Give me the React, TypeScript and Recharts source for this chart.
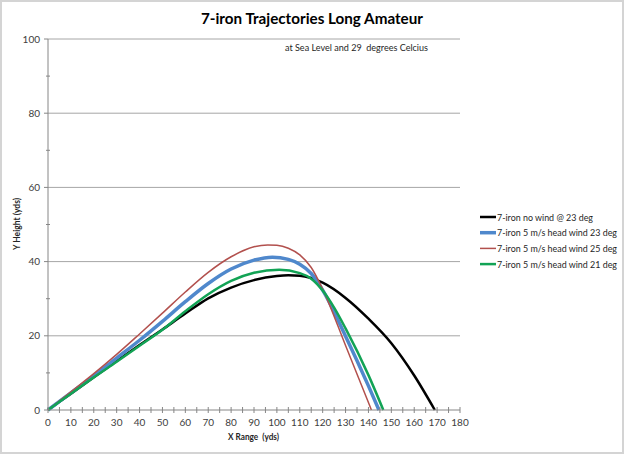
import { Line, LineChart, ReferenceLine, XAxis, YAxis } from 'recharts';

// yards downrange vs height in yards
const rangeNoWind = [0, 10, 20, 30, 40, 50, 60, 70, 80, 90, 100, 105, 110, 120, 130, 140, 150, 160, 169];
const heightNoWind = [0, 4.4, 8.8, 13.2, 17.5, 21.7, 26.0, 30.1, 33.0, 35.0, 36.1, 36.3, 36.2, 34.3, 30.2, 24.6, 18.0, 9.3, 0];

const rangeHead23 = [0, 10, 20, 30, 40, 50, 60, 70, 80, 90, 98, 105, 110, 115, 120, 130, 140, 144.6];
const heightHead23 = [0, 4.6, 9.2, 14.0, 18.8, 23.9, 29.2, 34.1, 38.0, 40.4, 41.2, 40.6, 39.3, 36.8, 32.3, 19.9, 6.5, 0];

const rangeHead25 = [0, 10, 20, 30, 40, 50, 60, 70, 80, 90, 96, 100, 105, 110, 115, 120, 130, 140, 141.3];
const heightHead25 = [0, 4.9, 9.8, 15.0, 20.5, 26.1, 31.8, 37.1, 41.3, 44.0, 44.5, 44.4, 43.6, 41.8, 38.4, 32.6, 17.4, 2.0, 0];

const rangeHead21 = [0, 10, 20, 30, 40, 50, 60, 70, 80, 90, 101, 110, 115, 120, 125, 130, 140, 146.5];
const heightHead21 = [0, 4.4, 8.8, 13.0, 17.3, 21.6, 26.6, 31.2, 34.8, 37.0, 37.8, 36.9, 35.4, 32.2, 27.6, 22.0, 9.4, 0];

const seriesNames = [
  '7-iron no wind @ 23 deg',
  '7-iron 5 m/s head wind 23 deg',
  '7-iron 5 m/s head wind 25 deg',
  '7-iron 5 m/s head wind 21 deg',
];

const xTicks = [0, 5, 10, 15, 20, 25, 30, 35, 40, 45, 50, 55, 60, 65, 70, 75, 80, 85, 90, 95, 100, 105, 110, 115, 120, 125, 130, 135, 140, 145, 150, 155, 160, 165, 170, 175, 180];
const yTicks = [0, 10, 20, 30, 40, 50, 60, 70, 80, 90, 100];
const gridLevels = [20, 40, 60, 80, 100];

const FONT = 'Lato, "Open Sans", sans-serif';
const AXIS = '#868686';
const LABEL = '#404040';

const toPoints = (xs: number[], ys: number[]) => xs.map((x, i) => ({ x, y: ys[i] }));

const series = [
  { name: seriesNames[0], data: toPoints(rangeNoWind, heightNoWind), color: '#000000', width: 2.5, textW: 96 },
  { name: seriesNames[1], data: toPoints(rangeHead23, heightHead23), color: '#4F88CC', width: 3.5, textW: 120 },
  { name: seriesNames[2], data: toPoints(rangeHead25, heightHead25), color: '#B2504D', width: 1.5, textW: 120 },
  { name: seriesNames[3], data: toPoints(rangeHead21, heightHead21), color: '#12A355', width: 2.5, textW: 120 },
];

function XTick({ x, y, payload }: any) {
  const v = payload.value;
  return (
    <g>
      <line x1={x} x2={x} y1={y - 3} y2={y + 3} stroke={AXIS} />
      {v % 10 === 0 && (
        <text x={x} y={y + 16} textAnchor="middle" fontSize={10} fontFamily={FONT} fill={LABEL}>
          {v}
        </text>
      )}
    </g>
  );
}

function YTick({ x, y, payload }: any) {
  const v = payload.value;
  const major = v % 20 === 0;
  return (
    <g>
      <line x1={major ? x - 4 : x - 2} x2={major ? x : x + 2} y1={y} y2={y} stroke={AXIS} />
      {major && (
        <text x={x - 8} y={y + 3.5} textAnchor="end" fontSize={10} fontFamily={FONT} fill={LABEL}>
          {v}
        </text>
      )}
    </g>
  );
}

export default function App() {
  return (
    <div style={{ position: 'absolute', left: 0, top: 0, width: 624, height: 454, background: '#fff' }}>
      <LineChart
        width={624}
        height={454}
        margin={{ top: 39, right: 164, left: 0, bottom: 0 }}
      >
        <XAxis
          dataKey="x"
          type="number"
          domain={[0, 180]}
          ticks={xTicks}
          interval={0}
          height={44}
          tickSize={0}
          tickMargin={0}
          tickLine={false}
          stroke={AXIS}
          tick={<XTick />}
          label={{
            content: () => (
              <text x={228} y={440} fontSize={9.5} fontWeight="bold" fontFamily={FONT} fill="#262626" textLength={51} lengthAdjust="spacingAndGlyphs" style={{ whiteSpace: 'pre' }}>
                {'X Range  (yds)'}
              </text>
            ),
          }}
        />
        <YAxis
          type="number"
          domain={[0, 100]}
          ticks={yTicks}
          interval={0}
          width={48}
          tickSize={0}
          tickMargin={0}
          tickLine={false}
          stroke={AXIS}
          tick={<YTick />}
          label={{
            content: () => (
              <text x={20} y={250} transform="rotate(-90 20 250)" fontSize={9.5} fontWeight="bold" fontFamily={FONT} fill="#262626" textLength={52} lengthAdjust="spacingAndGlyphs">
                Y Height (yds)
              </text>
            ),
          }}
        />
        {gridLevels.map((v) => (
          <ReferenceLine key={v} y={v} stroke="#A6A6A6" strokeWidth={1} />
        ))}
        {series.map((s) => (
          <Line
            key={s.name}
            data={s.data}
            dataKey="y"
            name={s.name}
            type="monotone"
            stroke={s.color}
            strokeWidth={s.width}
            dot={false}
            activeDot={false}
            isAnimationActive={false}
          />
        ))}
      </LineChart>

      <svg width={624} height={454} style={{ position: 'absolute', left: 0, top: 0, pointerEvents: 'none' }}>
        <rect x={1} y={1} width={622} height={452} fill="none" stroke="#D4D4D4" strokeWidth={2} />
        <text x={201} y={24} fontSize={16} fontWeight="bold" fontFamily={FONT} fill="#000" textLength={222} lengthAdjust="spacingAndGlyphs">
          7-iron Trajectories Long Amateur
        </text>
        <text x={285} y={50.5} fontSize={9.5} fontFamily={FONT} fill="#262626" textLength={143} lengthAdjust="spacingAndGlyphs" style={{ whiteSpace: 'pre' }}>
          {'at Sea Level and 29  degrees Celcius'}
        </text>
        {series.map((s, i) => (
          <g key={s.name}>
            <line x1={480} x2={496} y1={217 + i * 15.7} y2={217 + i * 15.7} stroke={s.color} strokeWidth={s.width} />
            <text x={497} y={220.5 + i * 15.7} fontSize={9.5} fontFamily={FONT} fill="#262626" textLength={s.textW} lengthAdjust="spacingAndGlyphs">
              {s.name}
            </text>
          </g>
        ))}
      </svg>
    </div>
  );
}
